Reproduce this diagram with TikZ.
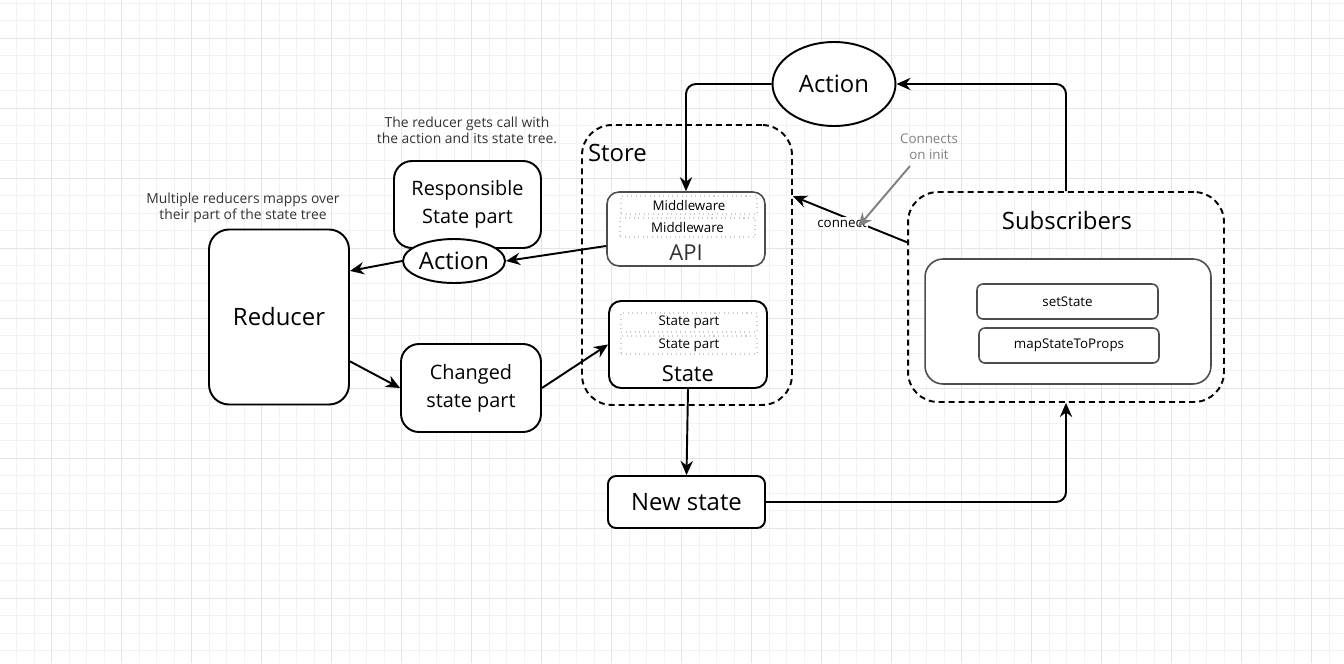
\documentclass[tikz,border=0pt]{standalone}
\usepackage{fontspec}
\setmainfont{Open Sans}
\usepackage{xcolor}
\usetikzlibrary{positioning, arrows.meta, shapes.geometric}
\definecolor{ink}{RGB}{0,0,0}
\definecolor{boxgray}{RGB}{77,77,77}
\definecolor{dotgray}{RGB}{205,205,205}
\definecolor{notegray}{RGB}{128,128,128}
\definecolor{notetext}{RGB}{51,51,51}
\definecolor{gridminor}{RGB}{242,242,242}
\definecolor{gridmajor}{RGB}{228,228,228}

\begin{document}
\begin{tikzpicture}[
    x=0.02cm, y=-0.02cm,
    >={Stealth[length=8pt,width=7pt]},
    lbig/.style={font=\fontsize{13.6pt}{16pt}\selectfont},
    lmid/.style={font=\fontsize{11.3pt}{15.9pt}\selectfont,align=center},
    lstate/.style={font=\fontsize{12.5pt}{15pt}\selectfont},
    lsmall/.style={font=\fontsize{7.6pt}{9pt}\selectfont},
    lnote/.style={font=\fontsize{7.9pt}{9pt}\selectfont,align=center,text=notetext},
    bx/.style={rectangle,draw=ink,line width=1.1pt,fill=white,rounded corners=0.36cm},
    gbox/.style={rectangle,draw=boxgray,line width=0.9pt,fill=white,rounded corners=0.24cm},
    dotbox/.style={rectangle,draw=dotgray,line width=0.6pt,dotted,inner sep=1pt,lsmall},
    dashbox/.style={rectangle,draw=ink,line width=1.1pt,dash pattern=on 3.4pt off 2.3pt,
                    rounded corners=0.6cm},
    ell/.style={ellipse,draw=ink,line width=1.1pt,fill=white,lbig},
    line/.style={draw=ink,line width=1.1pt}]

  \useasboundingbox (0,0) rectangle (1344,663);

  % background grid
  \foreach \i in {0,...,76}
    \draw[gridminor,line width=0.5pt] ({16.7+17.5*\i},0) -- ({16.7+17.5*\i},663);
  \foreach \i in {0,...,37}
    \draw[gridminor,line width=0.5pt] (0,{3.3+17.5*\i}) -- (1344,{3.3+17.5*\i});
  \foreach \i in {0,...,18}
    \draw[gridmajor,line width=0.5pt] ({51.7+70*\i},0) -- ({51.7+70*\i},663);
  \foreach \i in {0,...,8}
    \draw[gridmajor,line width=0.5pt] (0,{38.3+70*\i}) -- (1344,{38.3+70*\i});

  % left side
  \node[lnote] (note2) at (243,208) {Multiple reducers mapps over\\their part of the state tree};
  \node[lnote] (note1) at (467,130) {The reducer gets call with\\the action and its state tree.};
  \node[bx,lbig,rounded corners=0.4cm,minimum width=2.8cm,minimum height=3.5cm] (red) at (279,317) {Reducer};
  \node[bx,lmid,minimum width=2.94cm,minimum height=1.74cm] (resp) at (467.5,204.5) {Responsible\\State part};
  \node[ell,inner sep=0pt,minimum width=2.04cm,minimum height=0.88cm] (act2) at (454,261) {Action};
  \node[bx,lmid,minimum width=2.8cm,minimum height=1.76cm] (chg) at (471,388) {Changed\\state part};

  % store
  \node[dashbox,minimum width=4.2cm,minimum height=5.6cm] (store) at (687,265) {};
  \node[lbig,anchor=west,inner sep=1pt] (storelbl) at (586,153) {Store};
  \node[gbox,minimum width=3.16cm,minimum height=1.48cm] (api) at (686,229) {};
  \node[dotbox,minimum width=2.72cm,minimum height=0.36cm] (mw1) at (689,205) {Middleware};
  \node[dotbox,minimum width=2.7cm,minimum height=0.38cm] (mw2) at (687.5,227.5) {Middleware};
  \node[lstate,text=notetext] (apilbl) at (686,253) {API};
  \node[bx,rounded corners=0.24cm,minimum width=3.16cm,minimum height=1.74cm] (state) at (688,344.5) {};
  \node[dotbox,minimum width=2.72cm,minimum height=0.38cm] (sp1) at (689,322.5) {State part};
  \node[dotbox,minimum width=2.72cm,minimum height=0.36cm] (sp2) at (689,345) {State part};
  \node[lstate] (statelbl) at (688,374) {State};
  \node[bx,lbig,rounded corners=0.16cm,minimum width=3.14cm,minimum height=1.04cm] (newst) at (686.5,502) {New state};

  % action and subscribers
  \node[ell,minimum width=2.46cm,minimum height=1.68cm] (act) at (834,84) {Action};
  \node[dashbox,minimum width=6.32cm,minimum height=4.2cm] (sub) at (1066,297) {};
  \node[lbig] (sublbl) at (1067,221) {Subscribers};
  \node[gbox,rounded corners=0.36cm,minimum width=5.72cm,minimum height=2.5cm] (subin) at (1068,321.5) {};
  \node[gbox,lsmall,rounded corners=0.12cm,minimum width=3.62cm,minimum height=0.7cm] (setst) at (1067.5,301.5) {setState};
  \node[gbox,lsmall,rounded corners=0.12cm,minimum width=3.6cm,minimum height=0.7cm] (mapst) at (1069,345.5) {mapStateToProps};
  \node[lsmall,text=notegray,align=center] (cinit) at (929,147) {Connects\\on init};
  \coordinate (cinitend) at (858,227);

  % connectors
  \draw[->,line,rounded corners=0.2cm] (act.west) -| (api.north);
  \draw[->,line,rounded corners=0.2cm] (sub.north) |- (act.east);
  \draw[->,line] (api.192) -- (act2.east);
  \draw[->,line] (act2.west) -- (red.33);
  \draw[->,line] (red.-32) -- (chg.west);
  \draw[->,line] (chg.east) -- (state.west);
  \draw[->,line] (state.south) -- (newst.north);
  \draw[->,line,rounded corners=0.2cm] (newst.east) -| (sub.south);
  \draw[->,line] (sub.161) -- node[lsmall,fill=white,inner sep=1pt,pos=0.57,yshift=-4pt] (conlbl) {connect} (store.33);
  \draw[->,draw=notegray,line width=1.1pt] (cinit.225) -- (cinitend);
\end{tikzpicture}
\end{document}
